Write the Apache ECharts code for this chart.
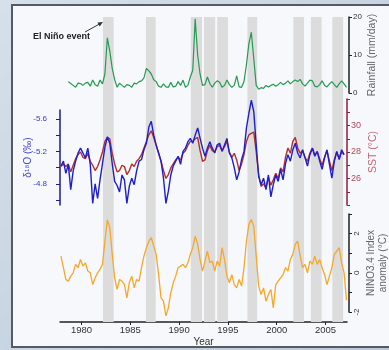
<!DOCTYPE html>
<html>
<head>
<meta charset="utf-8">
<script src="https://cdn.jsdelivr.net/npm/echarts@6/dist/echarts.min.js"></script>
<style>
  html, body { margin: 0; padding: 0; }
  body {
    width: 389px; height: 350px; position: relative; overflow: hidden;
    background: linear-gradient(135deg, #d6e0ea, #b9c8d8);
  }
  #panel {
    position: absolute; left: 11px; top: 4px; width: 378px; height: 340px;
    background: #f6f8fb; border: 2px solid #565b62; border-right: none;
  }
  #chart { position: absolute; left: 0; top: 0; width: 389px; height: 350px; }
</style>
</head>
<body>
<div id="panel"></div>
<div id="chart"></div>
<script>
// sample times (quarterly)
const startYear = 1977.9;
const stepYear = 0.25;
const sampleCount = 118;

// gray bands: El Nino events [start, end]
const elNinoBands = [
  [1982.2, 1983.3], [1986.6, 1987.6], [1991.2, 1992.35], [1992.55, 1993.7],
  [1993.9, 1995.0], [1997.0, 1998.0], [2001.7, 2002.8], [2003.5, 2004.6], [2005.7, 2006.8]
];

// rainfall (mm/day)
const rainfall = [
  null, null, null, 3.0, 2.5, 2.0, 1.5, 2.6, 2.5, 2.0,
  2.6, 2.8, 1.8, 3.4, 2.2, 1.8, 3.4, 2.4, 5.0, 14.5,
  11.0, 6.5, 3.5, 1.5, 2.6, 2.0, 1.5, 2.2, 2.0, 1.5,
  2.6, 2.4, 3.0, 3.2, 4.0, 6.5, 5.8, 5.0, 3.5, 3.0,
  1.8, 1.5, 2.4, 1.6, 1.5, 2.8, 1.6, 1.8, 3.0, 2.0,
  3.4, 1.5, 2.0, 4.2, 6.0, 19.5, 10.0, 5.0, 2.0, 2.2,
  4.2, 2.5, 1.5, 2.6, 3.2, 2.8, 1.5, 2.0, 3.4, 2.2,
  1.5, 2.0, 4.5, 1.6, 1.5, 3.0, 7.5, 13.0, 16.0, 9.0,
  2.0, 1.0, 1.4, 1.2, 2.0, 1.6, 2.0, 2.3, 1.8, 2.2,
  2.8, 2.2, 2.6, 3.2, 2.4, 3.0, 3.4, 3.0, 3.6, 2.4,
  1.8, 2.6, 3.4, 3.2, 1.8, 1.6, 2.2, 3.2, 2.0, 1.6,
  2.4, 3.0, 2.2, 1.5, 2.4, 3.2, 2.4, 1.5
];

// coral d18O (per mil)
const d18O = [
  -5.02, -5.08, -4.93, -5.04, -4.73, -4.96, -5.08, -5.18, -5.24, -5.18,
  -5.12, -5.24, -5.04, -4.56, -4.80, -4.62, -4.85, -5.05, -5.25, -5.38,
  -5.30, -5.05, -4.83, -4.78, -4.70, -4.91, -4.85, -4.56, -4.77, -4.87,
  -4.79, -4.96, -5.08, -5.10, -5.22, -5.30, -5.50, -5.57, -5.40, -5.28,
  -5.18, -5.08, -4.87, -4.56, -4.71, -4.91, -5.02, -5.08, -5.14, -5.04,
  -5.20, -5.24, -5.32, -5.36, -5.30, -5.40, -5.49, -5.36, -5.24, -5.14,
  -5.24, -5.32, -5.24, -5.18, -5.28, -5.30, -5.20, -5.28, -5.36, -5.18,
  -5.12, -5.00, -4.85, -4.95, -5.10, -5.20, -5.49, -5.67, -5.83, -5.69,
  -5.28, -4.89, -4.79, -4.87, -4.73, -4.91, -4.64, -4.79, -4.91, -4.83,
  -4.98, -4.85, -5.05, -5.16, -5.08, -5.22, -5.30, -5.18, -5.12, -5.22,
  -5.12, -5.02, -5.16, -5.24, -5.14, -5.20, -5.08, -4.98, -5.12, -5.22,
  -5.04, -4.87, -5.08, -5.20, -5.10, -5.22, -5.16, null
];

// SST (degC)
const sst = [
  26.9, 27.1, 26.9, 27.1, 26.5, 27.0, 27.5, 27.8, 28.0, 27.6,
  27.5, 27.9, 27.3, 27.0, 26.6, 26.9, 27.4, 28.0, 28.8, 29.1,
  29.0, 27.9, 27.1, 26.5, 26.6, 27.0, 26.9, 26.3, 26.6, 27.1,
  26.9, 27.3, 27.5, 27.8, 28.3, 28.8, 29.3, 29.6, 29.1, 28.5,
  27.9, 27.3, 26.6, 26.0, 26.3, 26.8, 27.1, 27.4, 27.6, 27.4,
  27.9, 28.1, 28.5, 28.8, 28.8, 29.0, 29.1, 28.1, 27.3, 27.4,
  28.1, 28.5, 28.1, 28.0, 28.4, 28.5, 28.1, 28.4, 28.8, 28.0,
  27.6, 27.9, 27.4, 26.6, 27.1, 27.8, 28.8, 29.3, 29.4, 29.5,
  28.0, 26.3, 25.4, 25.6, 25.3, 26.1, 25.5, 25.9, 26.4, 26.0,
  26.8, 26.5, 27.6, 28.3, 27.9, 28.8, 29.1, 28.3, 27.9, 28.1,
  27.6, 27.3, 27.9, 28.3, 27.8, 28.0, 27.5, 27.0, 27.6, 28.1,
  27.3, 26.6, 27.4, 28.0, 27.5, 28.0, 27.8, null
];

// NINO3.4 index anomaly (degC)
const nino34 = [
  0.85, 0.26, -0.34, -0.43, -0.17, 0.0, 0.43, 0.26, 0.68, 0.34,
  0.51, 0.09, 0.0, -0.6, -0.26, 0.0, 0.17, 0.43, 1.6, 2.7,
  2.3, 0.94, -0.26, -0.85, -0.34, -0.43, -0.6, -1.28, -0.51, -0.17,
  -0.77, -0.34, -0.43, 0.26, 0.85, 1.28, 1.6, 1.79, 1.36, 0.94,
  -0.09, -1.28, -1.45, -2.2, -1.79, -1.02, -0.51, -0.17, 0.26, 0.34,
  0.43, 0.26, 0.51, 0.94, 1.28, 1.87, 1.45, 0.68, 0.09, 0.6,
  1.11, 0.51, 0.6, 0.09, 0.6, 0.34, 1.28, 0.68, -0.17, -0.51,
  -0.09, -0.6, -0.77, -0.34, -0.68, 0.26, 1.62, 2.47, 2.72, 2.38,
  0.85, -0.68, -1.11, -0.77, -1.45, -1.11, -0.85, -1.79, -0.6, -0.43,
  -0.26, -0.09, 0.26, 0.09, 0.68, 0.94, 1.45, 1.62, 0.85, 0.26,
  0.43, 0.0, 0.6, 0.43, 0.85, 0.43, 0.68, 0.26, -0.09, -0.6,
  -0.17, 0.26, 0.94, 1.11, 1.28, 0.51, 0.0, -1.4
];

// tick values
const yearTicks = [1980, 1985, 1990, 1995, 2000, 2005];
const rainTicks = [0, 10, 20];
const d18OTicks = [-5.6, -5.4, -5.2, -5.0, -4.8, -4.6];
const d18OLabels = [-5.6, -5.2, -4.8];
const sstTicks = [24, 25, 26, 27, 28, 29, 30, 31, 32];
const sstLabels = [26, 28, 30];
const ninoTicks = [-2, -1, 0, 1, 2, 3];
const ninoLabels = [-2, 0, 2];

const years = [];
for (let i = 0; i < sampleCount; i++) years.push(+(startYear + i * stepYear).toFixed(2));
const pairs = arr => years.map((y, i) => [y, arr[i]]);
const plain = v => String(v);

const font = "'Liberation Sans', Arial, sans-serif";
const xMin = 1977.8, xMax = 2007.2;

let myChart = echarts.init(document.getElementById("chart"));

function hiddenX(idx) {
  return { type: "value", gridIndex: idx, min: xMin, max: xMax, show: false };
}
function panel(top, height) {
  return { left: 60, top: top, width: 287, height: height, outerBoundsMode: "none", containLabel: false };
}

let option = {
  animation: false,
  textStyle: { fontFamily: font },
  grid: [
    panel(17, 305),  // bands + year axis
    panel(17, 76),   // rainfall
    panel(110, 95),  // d18O
    panel(99, 106),  // SST
    panel(214, 98)   // NINO3.4
  ],
  xAxis: [
    {
      type: "value", gridIndex: 0, min: xMin, max: xMax,
      name: "Year", nameLocation: "middle", nameGap: 15, nameMoveOverlap: false,
      nameTextStyle: { color: "#333", fontSize: 10 },
      axisLine: { lineStyle: { color: "#222", width: 1.5 } },
      axisTick: { customValues: yearTicks, length: 3, lineStyle: { color: "#222" } },
      axisLabel: { customValues: yearTicks, formatter: plain, color: "#333", fontSize: 9.5, margin: 3 },
      splitLine: { show: false }
    },
    hiddenX(1), hiddenX(2), hiddenX(3), hiddenX(4)
  ],
  yAxis: [
    { type: "value", gridIndex: 0, min: 0, max: 1, show: false },
    {
      type: "value", gridIndex: 1, position: "right", offset: 2, min: 0, max: 20,
      name: "Rainfall (mm/day)", nameLocation: "middle", nameRotate: 90, nameGap: 18, nameMoveOverlap: false,
      nameTextStyle: { color: "#666", fontSize: 10.5 },
      axisLine: { show: true, lineStyle: { color: "#222", width: 1.5 } },
      axisTick: { show: true, customValues: rainTicks, length: 3, lineStyle: { color: "#222" } },
      axisLabel: { customValues: rainTicks, formatter: plain, color: "#333", fontSize: 8, margin: 4 },
      splitLine: { show: false }
    },
    {
      type: "value", gridIndex: 2, position: "left", inverse: true, min: -5.71, max: -4.54,
      name: "δ¹⁸O (‰)", nameLocation: "middle", nameRotate: 90, nameGap: 27, nameMoveOverlap: false,
      nameTextStyle: { color: "#4a4ad0", fontSize: 10 },
      axisLine: { show: true, lineStyle: { color: "#1c1c8c", width: 1.5 } },
      axisTick: { show: true, customValues: d18OTicks, length: 4, lineStyle: { color: "#1c1c8c" } },
      axisLabel: { customValues: d18OLabels, formatter: plain, color: "#3a3ac0", fontSize: 8, margin: 13 },
      splitLine: { show: false }
    },
    {
      type: "value", gridIndex: 3, position: "right", min: 24, max: 32,
      name: "SST (°C)", nameLocation: "middle", nameRotate: 90, nameGap: 21, nameMoveOverlap: false,
      nameTextStyle: { color: "#c06878", fontSize: 10.5 },
      axisLine: { show: true, lineStyle: { color: "#8c2040", width: 1.5 } },
      axisTick: { show: true, customValues: sstTicks, length: 3, lineStyle: { color: "#8c2040" } },
      axisLabel: { customValues: sstLabels, formatter: plain, color: "#b04a5a", fontSize: 9, margin: 4 },
      splitLine: { show: false }
    },
    {
      type: "value", gridIndex: 4, position: "right", offset: 2, min: -2, max: 3,
      name: "NINO3.4 Index\nanomaly (°C)", nameLocation: "middle", nameRotate: 90, nameGap: 16,
      nameMoveOverlap: false,
      nameTextStyle: { color: "#666", fontSize: 10, lineHeight: 12 },
      axisLine: { show: true, lineStyle: { color: "#222", width: 1.5 } },
      axisTick: { show: true, customValues: ninoTicks, length: 3, lineStyle: { color: "#222" } },
      axisLabel: {
        customValues: ninoLabels, formatter: plain, rotate: 90, align: "center", verticalAlign: "top",
        color: "#333", fontSize: 8, margin: 4
      },
      splitLine: { show: false }
    }
  ],
  graphic: [
    {
      type: "text", left: 33, top: 32, silent: true,
      style: { text: "El Niño event", fill: "#222", font: "bold 9px " + font }
    },
    {
      type: "line", silent: true,
      shape: { x1: 85, y1: 32, x2: 100, y2: 23.7 },
      style: { stroke: "#333", lineWidth: 1 }
    },
    {
      type: "polygon", silent: true,
      shape: { points: [[103, 22], [99.7, 26.4], [97.5, 22.6]] },
      style: { fill: "#333" }
    }
  ],
  series: [
    {
      type: "line", xAxisIndex: 0, yAxisIndex: 0, data: [], silent: true, z: 1,
      markArea: {
        silent: true,
        itemStyle: { color: "#dcdcdc" },
        data: elNinoBands.map(b => [{ xAxis: b[0] }, { xAxis: b[1] }])
      }
    },
    {
      name: "Rainfall", type: "line", xAxisIndex: 1, yAxisIndex: 1, data: pairs(rainfall),
      showSymbol: false, z: 3, lineStyle: { color: "#259a52", width: 1.2 }
    },
    {
      name: "SST", type: "line", xAxisIndex: 3, yAxisIndex: 3, data: pairs(sst),
      showSymbol: false, clip: false, z: 3, lineStyle: { color: "#b0302e", width: 1.4 }
    },
    {
      name: "d18O", type: "line", xAxisIndex: 2, yAxisIndex: 2, data: pairs(d18O),
      showSymbol: false, clip: false, z: 4, lineStyle: { color: "#1e1ed0", width: 1.4 }
    },
    {
      name: "NINO3.4", type: "line", xAxisIndex: 4, yAxisIndex: 4, data: pairs(nino34),
      showSymbol: false, clip: false, z: 3, lineStyle: { color: "#f5a82a", width: 1.3 }
    }
  ]
};
myChart.setOption(option, true);
</script>
</body>
</html>
